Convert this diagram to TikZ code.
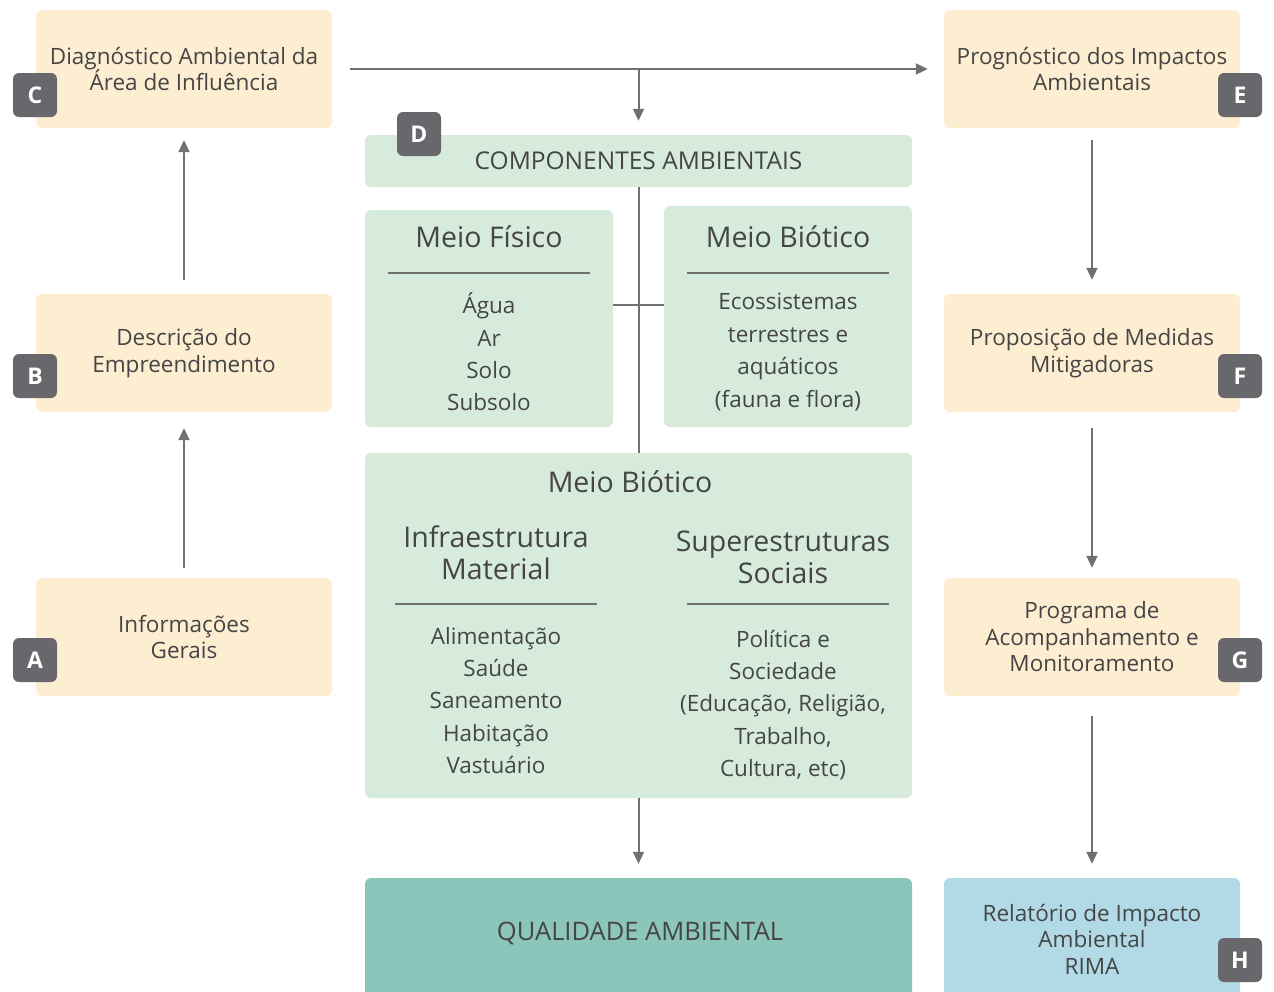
\documentclass[tikz,border=0pt]{standalone}
\usepackage{fontspec}
\setmainfont{Open Sans}
\usetikzlibrary{arrows.meta}
\definecolor{cream}{HTML}{FDEED2}
\definecolor{mint}{HTML}{D7EBDC}
\definecolor{tealq}{HTML}{8CC6BB}
\definecolor{skyb}{HTML}{B2DAE6}
\definecolor{badge}{HTML}{68686C}
\definecolor{txt}{HTML}{454545}
\definecolor{arr}{HTML}{707070}
\begin{document}
\begin{tikzpicture}[x=1pt,y=-1pt,
 box/.style={rounded corners=6pt, minimum width=296pt, minimum height=118pt, inner sep=0pt, align=center, text=txt, font=\fontsize{22.5}{26.5}\selectfont},
 obox/.style={box, fill=cream},
 gbox/.style={rounded corners=6pt, fill=mint, inner sep=0pt},
 tag/.style={rounded corners=6pt, fill=badge, minimum size=44pt, inner sep=0pt, text=white, font=\fontsize{23}{23}\selectfont\bfseries},
 conn/.style={draw=arr, line width=2pt, -{Triangle[length=12pt,width=11pt]}},
 plain/.style={draw=arr, line width=2pt},
 rule/.style={draw=arr, line width=2pt},
 lbl/.style={text=txt, align=center, inner sep=0pt},
 ttl/.style={lbl, font=\fontsize{28.5}{32}\selectfont},
 lst/.style={lbl, font=\fontsize{22.5}{32.4}\selectfont},
]
\useasboundingbox (0,0) rectangle (1274,991);
\clip (0,0) rectangle (1274,991);
% left / right boxes
\node[obox] (C) at (184,69) {Diagnóstico Ambiental da\\Área de Influência};
\node[obox] (E) at (1092,69) {Prognóstico dos Impactos\\Ambientais};
\node[obox] (B) at (184,353) {Descrição do\\Empreendimento};
\node[obox] (F) at (1092,353) {Proposição de Medidas\\Mitigadoras};
\node[obox] (A) at (184,637) {Informações\\Gerais};
\node[obox] (G) at (1092,637) {Programa de\\Acompanhamento e\\Monitoramento};
\node[box, fill=skyb, minimum height=122pt] (H) at (1092,939) {Relatório de Impacto\\Ambiental\\RIMA};
% central green boxes
\node[gbox, minimum width=547pt, minimum height=52pt, text=txt, font=\fontsize{24.5}{26}\selectfont] (comp) at (638.5,161) {COMPONENTES AMBIENTAIS};
\node[gbox, minimum width=248pt, minimum height=217pt] (Fis) at (489,318.5) {};
\node[gbox, minimum width=248pt, minimum height=221pt] (Bio) at (788,316.5) {};
\node[gbox, minimum width=547pt, minimum height=345pt] (Soc) at (638.5,625.5) {};
\node[rounded corners=6pt, fill=tealq, inner sep=0pt, minimum width=547pt, minimum height=130pt] (Qual) at (638.5,943) {};
\node[lbl, font=\fontsize{25.5}{28}\selectfont] (qualT) at (640,933) {QUALIDADE AMBIENTAL};
% badges
\node[tag] (Ct) at (35,95) {C};
\node[tag] (Et) at (1240,95) {E};
\node[tag] (Bt) at (35,376) {B};
\node[tag] (Ft) at (1240,376) {F};
\node[tag] (At) at (35,660) {A};
\node[tag] (Gt) at (1240,660) {G};
\node[tag] (Ht) at (1240,960) {H};
\node[tag] (Dt) at (419,134) {D};
% texts in green boxes
\node[ttl] (fisT) at (489,237) {Meio Físico};
\draw[rule] (388,273) -- (590,273);
\node[lst] (fisL) at (489,352) {Água\\Ar\\Solo\\Subsolo};
\node[ttl] (bioT) at (788,237) {Meio Biótico};
\draw[rule] (687,273) -- (889,273);
\node[lst] (bioL) at (788,352) {Ecossistemas\\terrestres e\\aquáticos\\(fauna e flora)};
\node[ttl] (socT) at (630,482) {Meio Biótico};
\node[ttl] (infT) at (496,553) {Infraestrutura\\Material};
\node[ttl] (supT) at (783,557) {Superestruturas\\Sociais};
\draw[rule] (395,604) -- (597,604);
\draw[rule] (687,604) -- (889,604);
\node[lst] (infL) at (496,700.5) {Alimentação\\Saúde\\Saneamento\\Habitação\\Vastuário};
\node[lst] (supL) at (783,705) {Política e\\Sociedade\\(Educação, Religião,\\Trabalho,\\Cultura, etc)};
% connectors
\draw[conn, shorten <=18pt, shorten >=16pt] (C.east) -- (E.west);
\draw[conn, shorten >=14pt] (comp.north |- C.east) -- (comp.north);
\draw[conn, shorten <=14pt, shorten >=12pt] (B.north) -- (C.south);
\draw[conn, shorten <=10pt, shorten >=16pt] (A.north) -- (B.south);
\draw[conn, shorten <=12pt, shorten >=14pt] (E.south) -- (F.north);
\draw[conn, shorten <=16pt, shorten >=10pt] (F.south) -- (G.north);
\draw[conn, shorten <=20pt, shorten >=14pt] (G.south) -- (H.north);
\draw[plain] (comp.south) -- (Soc.north);
\draw[plain] (Fis.east |- 0,305) -- (Bio.west |- 0,305);
\draw[conn, shorten >=14pt] (Soc.south) -- (Qual.north);
\end{tikzpicture}
\end{document}
